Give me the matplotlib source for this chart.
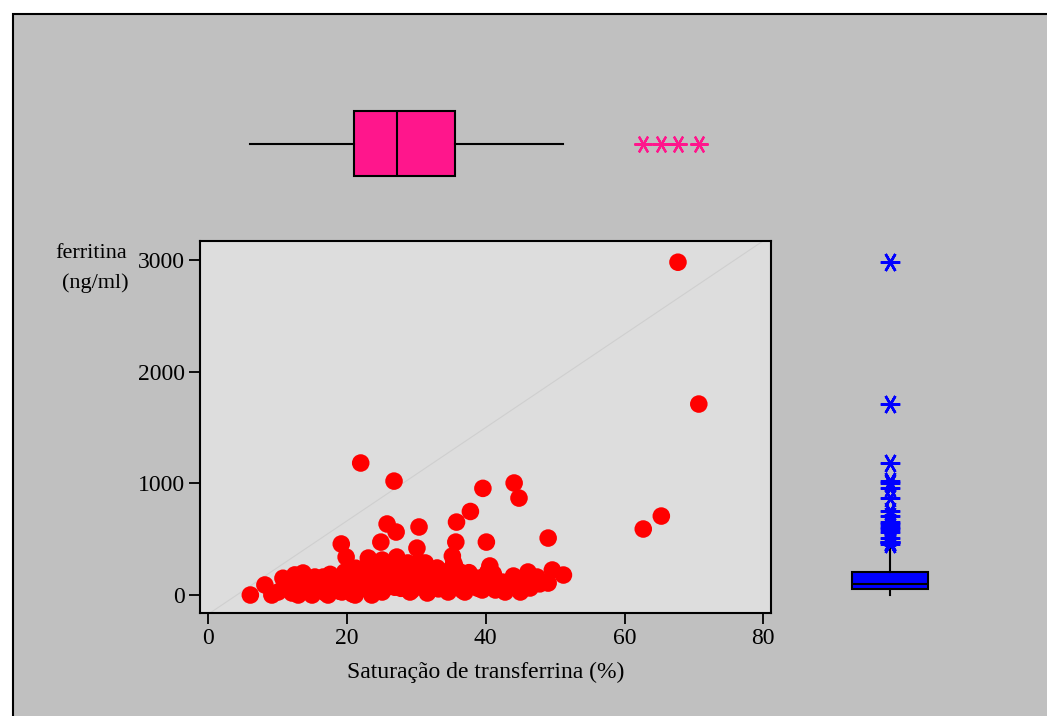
import matplotlib.pyplot as plt
from matplotlib.patches import Rectangle
import numpy as np

plt.rcParams['font.family'] = ['Liberation Serif', 'DejaVu Serif']

# transferrin saturation (%) and ferritin (ng/ml), one pair per patient
sat = [67.7, 70.7, 22.0, 26.8, 44.1, 39.6, 44.8, 37.8, 65.3, 35.8,
       25.8, 30.4, 62.7, 27.1, 49.0, 19.2, 24.9, 35.7, 40.1, 30.1,
       19.9, 23.1, 25.1, 27.2, 30.4, 31.3, 35.2, 35.4, 40.6, 28.8,
       35.6, 22.6, 26.5, 33.0, 31.3, 46.1, 49.6, 51.2, 44.0, 46.7,
       49.0, 45.0, 8.2, 6.1,
       10.8, 12.5, 13.7, 10.1, 12.1, 15.0, 16.6, 15.4, 17.9, 19.7,
       19.3, 21.5, 23.6, 28.0, 25.9, 29.4, 17.3, 13.0, 9.2, 21.2,
       23.6, 15.0, 17.9, 22.2, 25.1, 42.4, 41.4, 38.5, 39.5, 37.0,
       37.8, 36.3, 34.1, 34.6, 32.7, 31.6, 29.8, 29.1, 33.4, 35.6,
       37.3, 39.6, 42.8, 45.2, 47.4, 46.4, 11.5, 14.2, 16.0, 18.5,
       20.4, 24.3, 26.9, 30.8, 33.9, 38.9, 41.8, 43.5, 14.8, 18.9,
       21.9, 24.6, 27.8, 32.2, 36.7, 40.9, 12.8, 20.8, 26.0, 28.5,
       11.2, 13.4, 16.2, 18.2, 20.1, 22.9, 24.0, 26.2, 28.2, 29.6,
       31.9, 33.2, 34.8, 36.0, 38.1, 39.2, 41.1, 43.0, 16.9, 19.5,
       21.3, 23.3, 25.4, 27.5, 30.0, 32.5, 34.3, 36.9, 38.4, 40.3,
       42.0, 44.6, 47.8, 14.5, 17.6, 24.8, 29.0, 33.6, 37.6, 31.0]
ferr = [2980, 1710, 1182, 1020, 1003, 955, 868, 748, 707, 653,
        636, 609, 591, 564, 510, 457, 474, 474, 474, 420,
        340, 331, 313, 340, 295, 287, 349, 287, 260, 287,
        251, 242, 242, 242, 242, 206, 224, 179, 170, 134,
        107, 27, 90, 0,
        150, 180, 197, 27, 18, 0, 161, 161, 116, 206,
        27, 197, 152, 116, 72, 45, 0, 0, 0, 0,
        0, 90, 45, 63, 27, 116, 45, 152, 45, 27,
        179, 206, 206, 27, 90, 18, 179, 27, 116, 107,
        107, 161, 27, 116, 161, 63, 60, 110, 140, 75,
        120, 95, 70, 98, 150, 60, 80, 98, 40, 35,
        55, 130, 60, 55, 40, 90, 100, 10, 180, 140,
        120, 60, 105, 150, 85, 200, 30, 170, 210, 130,
        190, 55, 160, 75, 100, 60, 190, 85, 20, 165,
        240, 100, 215, 190, 150, 125, 175, 140, 95, 205,
        80, 140, 100, 70, 185, 230, 225, 180, 200, 130]

# box summaries for the marginal plots
sat_box = dict(q1=21.0, med=27.2, q3=35.6)
ferr_box = dict(q1=54, med=98, q3=206)


def box_stats(values, q1, med, q3):
    v = np.asarray(values, dtype=float)
    iqr = q3 - q1
    inside = v[(v >= q1 - 1.5 * iqr) & (v <= q3 + 1.5 * iqr)]
    fliers = v[(v < q1 - 1.5 * iqr) | (v > q3 + 1.5 * iqr)]
    return dict(q1=q1, med=med, q3=q3, whislo=inside.min(),
                whishi=inside.max(), fliers=fliers)


W, H = 1047, 716
fig = plt.figure(figsize=(W / 100, H / 100), dpi=100, facecolor='white')
fig.patches.append(Rectangle((13 / W, -0.05), 1.1, 0.05 + (H - 14) / H,
                             transform=fig.transFigure, facecolor='#c0c0c0',
                             edgecolor='black', lw=1.5, zorder=-10))

ax = fig.add_axes([200 / W, 103 / H, 571 / W, 372 / H])
ax_top = fig.add_axes([200 / W, 516 / H, 571 / W, 110 / H], sharex=ax)
ax_right = fig.add_axes([830 / W, 103 / H, 120 / W, 372 / H], sharey=ax)

ax.set_facecolor('#dddddd')
ax.plot([0.0175, 0.986], [0, 1], transform=ax.transAxes, color='#cfcfcf', lw=0.8, zorder=1)
ax.scatter(sat, ferr, s=160, color='#ff0000', edgecolors='none', zorder=3)
ax.set_xlim(-1.15, 81.1)
ax.set_ylim(-161, 3170)
ax.set_xticks([0, 20, 40, 60, 80])
ax.set_yticks([0, 1000, 2000, 3000])
for s in ax.spines.values():
    s.set_linewidth(1.5)
ax.tick_params(direction='out', length=8, width=1.3, labelsize=17, pad=3)
ax.set_xlabel('Saturação de transferrina (%)', fontsize=17, labelpad=9)

star = (6, 2, 90)
ax_top.bxp([box_stats(sat, **sat_box)], positions=[0.51], widths=0.59, vert=False,
           patch_artist=True, showcaps=False,
           boxprops=dict(facecolor='#ff168c', edgecolor='black', lw=1.5),
           medianprops=dict(color='black', lw=1.5),
           whiskerprops=dict(color='black', lw=1.5),
           flierprops=dict(marker=star, markeredgecolor='#ff168c',
                           markersize=13, markeredgewidth=1.6))
ax_top.set_ylim(0, 1)

ax_right.bxp([box_stats(ferr, **ferr_box)], positions=[0.5], widths=0.64,
             patch_artist=True, showcaps=False,
             boxprops=dict(facecolor='#0000ff', edgecolor='black', lw=1.5),
             medianprops=dict(color='black', lw=1.5),
             whiskerprops=dict(color='black', lw=1.5),
             flierprops=dict(marker=star, markeredgecolor='#0000ff',
                             markersize=14, markeredgewidth=1.8))
ax_right.set_xlim(0, 1)

for a in (ax_top, ax_right):
    a.set_facecolor('none')
    a.axis('off')

fig.text(91 / W, 1 - 253 / H, 'ferritina', fontsize=16, ha='center', va='center')
fig.text(95 / W, 1 - 283 / H, '(ng/ml)', fontsize=16, ha='center', va='center')

fig.savefig('out.png', dpi=100, facecolor=fig.get_facecolor())
